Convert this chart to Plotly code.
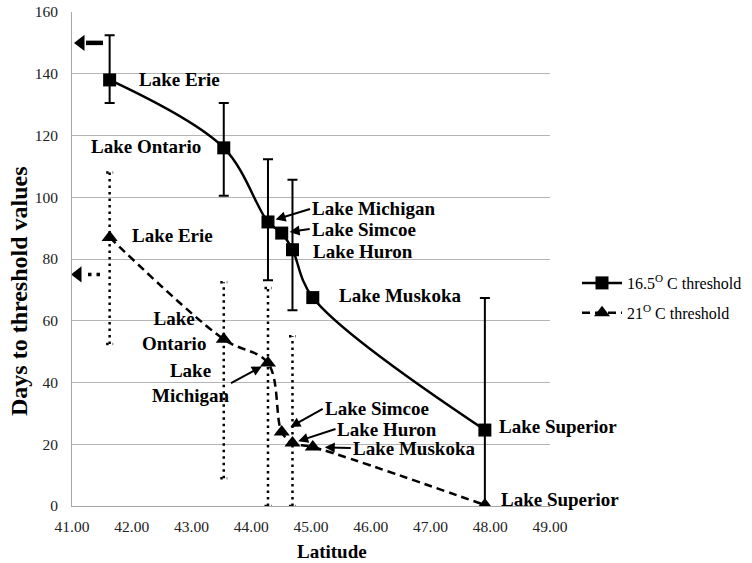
import plotly.graph_objects as go

# ---- data -------------------------------------------------------------
lakes = ["Lake Erie", "Lake Ontario", "Lake Michigan", "Lake Simcoe",
         "Lake Huron", "Lake Muskoka", "Lake Superior"]
latitude = [41.63, 43.54, 44.28, 44.51, 44.69, 45.03, 47.91]

days_165 = [138, 116, 92, 88.4, 83, 67.5, 24.6]
err_165_up = [14.5, 14.5, 20.3, None, 22.7, None, 42.8]
err_165_down = [7.5, 15.5, 18.9, None, 19.6, None, 24.6]

days_21 = [87, 54, 46.3, 24, 20.4, 19.1, 0.3]
err_21_up = [21, 18.5, 24.3, None, 34.6, None, None]
err_21_down = [34.5, 45, 46.3, None, 20.4, None, None]

arrow_days_165 = 150
arrow_days_21 = 75

x_ticks = [41, 42, 43, 44, 45, 46, 47, 48, 49]
y_ticks = [0, 20, 40, 60, 80, 100, 120, 140, 160]

# ---- styling ----------------------------------------------------------
SERIF = "Liberation Serif"
X_RANGE = [41, 49]
Y_RANGE = [0, 160]
PX_PER_X = 478 / (X_RANGE[1] - X_RANGE[0])

# label placement: lake -> (xanchor, dx, dy, text, pointer standoff or None)
# dx/dy are pixel offsets of the label from its point (dy positive = up);
# when a pointer is drawn, the offset is where the arrow tail sits.
labels_165 = {
    "Lake Erie": ("left", 27, 0, "Lake Erie", None),
    "Lake Ontario": ("right", -21, 1, "Lake Ontario", None),
    "Lake Michigan": ("left", 42, 13, "Lake Michigan", 8),
    "Lake Simcoe": ("left", 28, 4, "Lake Simcoe", 8),
    "Lake Huron": ("left", 19, -2, "Lake Huron", None),
    "Lake Muskoka": ("left", 24, 2, "Lake Muskoka", None),
    "Lake Superior": ("left", 12, 4, "Lake Superior", None),
}
labels_21 = {
    "Lake Erie": ("left", 20, 2, "Lake Erie", None),
    "Lake Ontario": ("right", -16, 8, "Lake<br>Ontario", None),
    "Lake Michigan": ("right", -37, -20, "Lake<br>Michigan", 7),
    "Lake Simcoe": ("left", 41, 23, "Lake Simcoe", 10),
    "Lake Huron": ("left", 43, 14, "Lake Huron", 6),
    "Lake Muskoka": ("left", 38, -1, "Lake Muskoka", 12),
    "Lake Superior": ("left", 14, 6, "Lake Superior", None),
}

fig = go.Figure()

# solid error bars for the 16.5 C series
eb_idx = [i for i, v in enumerate(err_165_up) if v is not None]
fig.add_trace(go.Scatter(
    x=[latitude[i] for i in eb_idx],
    y=[days_165[i] for i in eb_idx],
    mode="markers",
    marker=dict(size=2, opacity=0),
    error_y=dict(type="data", symmetric=False,
                 array=[err_165_up[i] for i in eb_idx],
                 arrayminus=[err_165_down[i] for i in eb_idx],
                 color="black", thickness=2, width=5),
    showlegend=False, hoverinfo="skip",
))

# dotted error bars for the 21 C series
cap = 3.5 / PX_PER_X
dx, dy = [], []
for i, lat in enumerate(latitude):
    if err_21_up[i] is None:
        continue
    hi = days_21[i] + err_21_up[i]
    lo = days_21[i] - err_21_down[i]
    dx += [lat, lat, None, lat - cap, lat + cap, None, lat - cap, lat + cap, None]
    dy += [lo, hi, None, hi, hi, None, lo, lo, None]
fig.add_trace(go.Scatter(
    x=dx, y=dy, mode="lines",
    line=dict(color="black", width=2.5, dash="2.5px,4px"),
    showlegend=False, hoverinfo="skip",
))

# main series
fig.add_trace(go.Scatter(
    x=latitude, y=days_165, mode="lines+markers",
    name="16.5<sup>O</sup> C threshold",
    line=dict(color="black", width=2.5, shape="spline"),
    marker=dict(symbol="square", size=13, color="black"),
    legendgroup="a",
))
fig.add_trace(go.Scatter(
    x=latitude, y=days_21, mode="lines+markers",
    name="21<sup>O</sup> C threshold",
    line=dict(color="black", width=2.5, shape="spline", dash="8px,5px"),
    marker=dict(symbol="triangle-up", size=14, color="black"),
    legendgroup="b",
))

# left-edge arrows: solid for 16.5 C, dotted for 21 C
x0 = X_RANGE[0]
fig.add_trace(go.Scatter(
    x=[x0 + 14 / PX_PER_X, x0 + 31 / PX_PER_X], y=[arrow_days_165] * 2,
    mode="lines", line=dict(color="black", width=4.5),
    showlegend=False, hoverinfo="skip",
))
fig.add_trace(go.Scatter(
    x=[x0 + 16 / PX_PER_X, x0 + 30 / PX_PER_X], y=[arrow_days_21] * 2,
    mode="lines", line=dict(color="black", width=3.5, dash="3.5px,5px"),
    showlegend=False, hoverinfo="skip",
))
fig.add_trace(go.Scatter(
    x=[x0 + 9 / PX_PER_X, x0 + 6 / PX_PER_X],
    y=[arrow_days_165, arrow_days_21], mode="markers",
    marker=dict(symbol="triangle-left", size=14, color="black"),
    showlegend=False, hoverinfo="skip",
))

# lake labels, some with pointer arrows
label_font = dict(family=SERIF, size=19, color="black")
for series, labels in ((days_165, labels_165), (days_21, labels_21)):
    for i, lake in enumerate(lakes):
        xanchor, ox, oy, text, standoff = labels[lake]
        bold = "<b>" + text.replace("<br>", "</b><br><b>") + "</b>"
        if standoff is None:
            fig.add_annotation(
                x=latitude[i], y=series[i], text=bold, showarrow=False,
                xanchor=xanchor, yanchor="middle", xshift=ox, yshift=oy,
                font=label_font, align="center",
            )
        else:
            fig.add_annotation(
                x=latitude[i], y=series[i], text=bold, showarrow=True,
                ax=ox, ay=-oy, standoff=standoff, arrowhead=2, arrowsize=1,
                arrowwidth=2, arrowcolor="black",
                xanchor=xanchor, yanchor="middle",
                font=label_font, align="center",
            )

# axis titles
fig.add_annotation(
    xref="paper", yref="paper", x=(332 - 72) / 478, y=(506 - 551) / 494,
    text="<b>Latitude</b>", showarrow=False,
    font=dict(family=SERIF, size=19, color="black"),
    xanchor="center", yanchor="middle",
)
fig.add_annotation(
    xref="paper", yref="paper", x=(19 - 72) / 478, y=(506 - 291) / 494,
    text="<b>Days to threshold values</b>", showarrow=False, textangle=-90,
    font=dict(family=SERIF, size=24, color="black"),
    xanchor="center", yanchor="middle",
)

fig.update_layout(
    template="none",
    width=752, height=563,
    margin=dict(l=72, r=202, t=12, b=57, autoexpand=False),
    paper_bgcolor="white", plot_bgcolor="white",
    font=dict(family=SERIF, color="black"),
    showlegend=True,
    legend=dict(
        x=(577 - 72) / 478, y=(506 - 266) / 494, xanchor="left", yanchor="top",
        font=dict(family=SERIF, size=16, color="black"),
        traceorder="grouped", tracegroupgap=6, itemwidth=40,
        bgcolor="rgba(0,0,0,0)", borderwidth=0,
    ),
    xaxis=dict(
        range=X_RANGE, tickvals=x_ticks, tickformat=".2f", automargin=False,
        showgrid=False, zeroline=False, showline=True,
        linecolor="#a6a6a6", linewidth=1,
        ticks="outside", ticklen=6, tickcolor="rgba(0,0,0,0)",
        tickfont=dict(family=SERIF, size=15.5, color="#222"),
    ),
    yaxis=dict(
        range=Y_RANGE, tickvals=y_ticks, automargin=False,
        showgrid=True, gridcolor="#b5b5b5", gridwidth=1,
        zeroline=False, showline=True, linecolor="#a6a6a6", linewidth=1,
        ticks="outside", ticklen=10, tickcolor="rgba(0,0,0,0)",
        tickfont=dict(family=SERIF, size=15.5, color="#222"),
    ),
)

fig.write_html("out.html")
